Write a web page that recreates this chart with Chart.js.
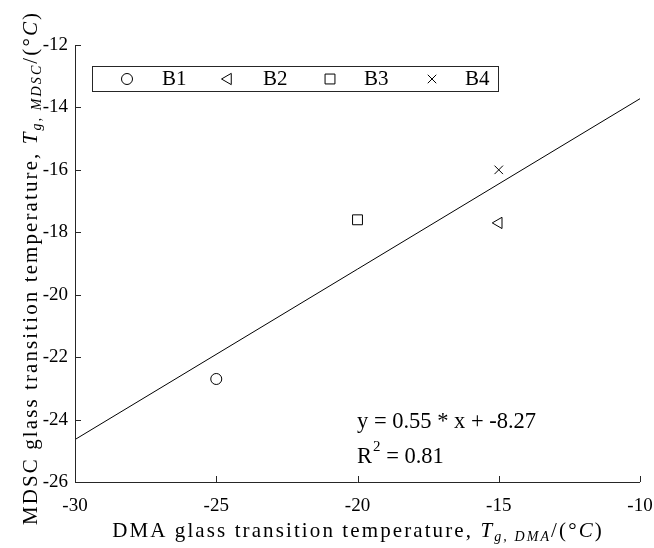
<!DOCTYPE html>
<html>
<head>
<meta charset="utf-8">
<script src="https://cdn.jsdelivr.net/npm/chart.js@4.4.0/dist/chart.umd.min.js"></script>
<style>
  html, body { margin: 0; padding: 0; background: #fff; }
  #wrap { width: 654px; height: 548px; }
</style>
</head>
<body>
<div id="wrap"><canvas id="tgChart" width="654" height="548"></canvas></div>
<script>
// Dữ liệu
const seriesNames = ['B1', 'B2', 'B3', 'B4'];
const dmaTg = [-25, -15, -20, -15];
const mdscTg = [-22.7, -17.7, -17.6, -16.0];
const pointStyles = ['circle', 'triangle', 'rect', 'crossRot'];
const pointRotations = [0, -90, 0, 0];
const pointSizes = [5.5, 6.5, 7, 6];

// Đường hồi quy tuyến tính (2 đầu mút)
const fitX = [-30, -10];
const fitY = [-24.64, -13.72];

const xTicks = [-30, -25, -20, -15, -10];
const yTicks = [-26, -24, -22, -20, -18, -16, -14, -12];

const fitLines = ['y = 0.55 * x + -8.27', 'R', '2', ' = 0.81'];

const SERIF = '"Liberation Serif", "DejaVu Serif", serif';
const AXIS_COLOR = '#262626';

// Vẽ chuỗi có chữ nghiêng, chỉ số dưới
function drawRich(ctx, parts, x, y, spacing) {
    ctx.letterSpacing = spacing + 'px';
    let total = 0;
    parts.forEach(p => {
        ctx.font = (p.italic ? 'italic ' : '') + p.size + 'px ' + SERIF;
        p.w = ctx.measureText(p.t).width;
        total += p.w;
    });
    let cx = x - total / 2;
    parts.forEach(p => {
        ctx.font = (p.italic ? 'italic ' : '') + p.size + 'px ' + SERIF;
        ctx.fillText(p.t, cx, y + (p.dy || 0));
        cx += p.w;
    });
    ctx.letterSpacing = '0px';
}

const decorPlugin = {
    id: 'decor',
    afterDraw(chart) {
        const ctx = chart.ctx;
        const xs = chart.scales.x;
        const ys = chart.scales.y;
        const area = chart.chartArea;
        ctx.save();

        // trục trái và dưới
        ctx.strokeStyle = AXIS_COLOR;
        ctx.lineWidth = 1;
        ctx.beginPath();
        ctx.moveTo(area.left + 0.5, area.top);
        ctx.lineTo(area.left + 0.5, area.bottom + 0.5);
        ctx.lineTo(area.right, area.bottom + 0.5);
        ctx.stroke();

        // vạch chia hướng vào trong
        ctx.beginPath();
        xTicks.forEach(v => {
            const px = Math.round(xs.getPixelForValue(v)) + 0.5;
            ctx.moveTo(px, area.bottom);
            ctx.lineTo(px, area.bottom - 6);
        });
        yTicks.forEach(v => {
            const py = Math.round(ys.getPixelForValue(v)) + 0.5;
            ctx.moveTo(area.left, py);
            ctx.lineTo(area.left + 6, py);
        });
        ctx.stroke();

        // nhãn vạch chia
        ctx.fillStyle = '#000';
        ctx.font = '19px ' + SERIF;
        ctx.textBaseline = 'middle';
        ctx.textAlign = 'center';
        xTicks.forEach(v => {
            ctx.fillText(String(v), xs.getPixelForValue(v), area.bottom + 24);
        });
        ctx.textAlign = 'right';
        yTicks.forEach(v => {
            ctx.fillText(String(v), area.left - 7, ys.getPixelForValue(v));
        });

        // tiêu đề trục
        ctx.textAlign = 'left';
        ctx.textBaseline = 'alphabetic';
        drawRich(ctx, [
            { t: 'DMA glass transition temperature, ', size: 21 },
            { t: 'T', size: 21, italic: true },
            { t: 'g, DMA', size: 14, italic: true, dy: 4 },
            { t: '/(°', size: 21 },
            { t: 'C', size: 21, italic: true },
            { t: ')', size: 21 }
        ], 358, 537, 2.1);

        ctx.save();
        ctx.translate(37, 268);
        ctx.rotate(-Math.PI / 2);
        drawRich(ctx, [
            { t: 'MDSC glass transition temperature, ', size: 21 },
            { t: 'T', size: 21, italic: true },
            { t: 'g, MDSC', size: 14, italic: true, dy: 4 },
            { t: '/(°', size: 21 },
            { t: 'C', size: 21, italic: true },
            { t: ')', size: 21 }
        ], 0, 0, 2.1);
        ctx.restore();

        // phương trình hồi quy
        ctx.font = '22.5px ' + SERIF;
        ctx.fillText(fitLines[0], 357, 428);
        ctx.fillText(fitLines[1], 357, 463);
        let rw = ctx.measureText(fitLines[1]).width;
        ctx.font = '15px ' + SERIF;
        ctx.fillText(fitLines[2], 358 + rw, 451);
        let sw = ctx.measureText(fitLines[2]).width;
        ctx.font = '22.5px ' + SERIF;
        ctx.fillText(fitLines[3], 358 + rw + sw, 463);

        // chú giải
        ctx.fillStyle = '#fff';
        ctx.fillRect(92, 66, 407, 25);
        ctx.strokeStyle = AXIS_COLOR;
        ctx.strokeRect(92.5, 66.5, 406, 25);
        const markX = [127, 228, 330, 432];
        const textX = [162, 263, 364, 465];
        seriesNames.forEach((name, i) => {
            ctx.strokeStyle = '#000';
            ctx.fillStyle = 'rgba(0,0,0,0)';
            ctx.lineWidth = 1;
            Chart.helpers.drawPoint(ctx, {
                pointStyle: pointStyles[i],
                radius: pointSizes[i],
                rotation: pointRotations[i],
                borderWidth: 1
            }, markX[i], 79);
            ctx.fillStyle = '#000';
            ctx.font = '21px ' + SERIF;
            ctx.textBaseline = 'middle';
            ctx.fillText(name, textX[i], 79);
        });

        ctx.restore();
    }
};

const datasets = seriesNames.map((name, i) => ({
    type: 'scatter',
    label: name,
    data: [{ x: dmaTg[i], y: mdscTg[i] }],
    pointStyle: pointStyles[i],
    rotation: pointRotations[i],
    pointRadius: pointSizes[i],
    backgroundColor: 'rgba(0,0,0,0)',
    borderColor: '#000',
    borderWidth: 1
}));

datasets.unshift({
    type: 'line',
    label: 'fit',
    data: fitX.map((x, i) => ({ x: x, y: fitY[i] })),
    borderColor: '#000',
    borderWidth: 1,
    pointRadius: 0,
    fill: false
});

const ctx = document.getElementById('tgChart').getContext('2d');
const tgChart = new Chart(ctx, {
    type: 'scatter',
    data: { datasets: datasets },
    plugins: [decorPlugin],
    options: {
        responsive: false,
        animation: false,
        layout: {
            autoPadding: false,
            padding: { top: 45, right: 14, left: 0, bottom: 0 }
        },
        plugins: {
            legend: { display: false },
            tooltip: { enabled: false }
        },
        scales: {
            x: {
                type: 'linear',
                min: -30,
                max: -10,
                grid: { display: false },
                border: { display: false },
                ticks: { display: false },
                afterFit: s => { s.height = 66; }
            },
            y: {
                type: 'linear',
                min: -26,
                max: -12,
                grid: { display: false },
                border: { display: false },
                ticks: { display: false },
                afterFit: s => { s.width = 75; }
            }
        }
    }
});
</script>
</body>
</html>
